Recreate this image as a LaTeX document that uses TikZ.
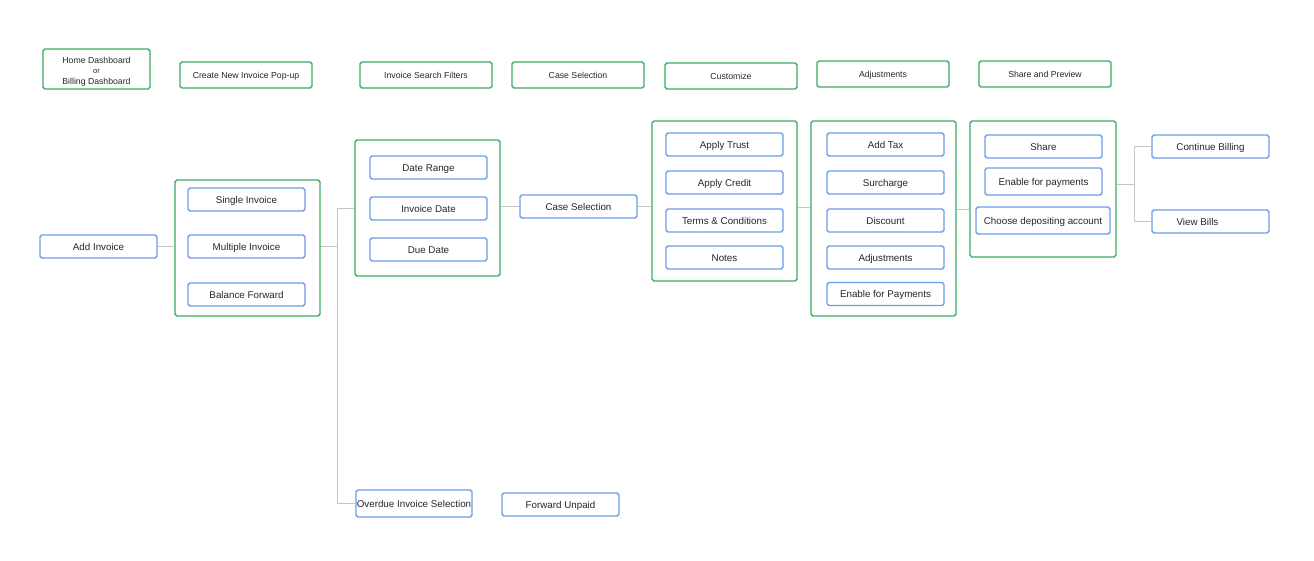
\documentclass[tikz,border=0pt]{standalone}
\usepackage{fontspec}
\setmainfont{Liberation Sans}
\definecolor{gboxc}{RGB}{60,170,100}
\definecolor{bboxc}{RGB}{108,156,232}
\definecolor{connc}{RGB}{196,196,196}
\begin{document}
\begin{tikzpicture}[x=1pt,y=-1pt,
  bluebox/.style={draw=bboxc, line width=1.4pt, rounded corners=1.8pt, fill=white, inner sep=0pt,
    minimum width=117pt, minimum height=23pt, font=\fontsize{9.8}{11}\selectfont, text=black!85,
    text height=7pt, text depth=0pt},
  greenbox/.style={draw=gboxc, line width=1.4pt, rounded corners=1.8pt, inner sep=0pt},
  headbase/.style={greenbox, minimum width=132pt, minimum height=26pt, align=center,
    font=\fontsize{8.7}{10}\selectfont, text=black!85},
  headbox/.style={headbase, text height=6.2pt, text depth=0pt},
  conn/.style={draw=connc, line width=1pt}]
\useasboundingbox (0,0) rectangle (1314,560);

% header row
\node[headbase, minimum width=107pt, minimum height=40pt] (home) at (96.5,69) {};
\node[align=center, inner sep=0pt, font=\fontsize{8.7}{10}\selectfont, text=black!85] (hometext) at (home.center)
  [yshift=-2.5pt] {Home Dashboard\\[0.5pt]{\fontsize{7.5}{10}\selectfont or}\\[0.5pt]Billing Dashboard};
\node[headbox] (hcreate) at (246,75) {Create New Invoice Pop-up};
\node[headbox] (hsearch) at (426,75) {Invoice Search Filters};
\node[headbox] (hcase) at (578,75) {Case Selection};
\node[headbox] (hcust) at (731,76) {Customize};
\node[headbox] (hadj) at (883,74) {Adjustments};
\node[headbox] (hshare) at (1045,74) {Share and Preview};

% groups
\node[greenbox, minimum width=145pt, minimum height=136pt] (g1) at (247.5,248) {};
\node[greenbox, minimum width=145pt, minimum height=136pt] (g2) at (427.5,208) {};
\node[greenbox, minimum width=145pt, minimum height=160pt] (g3) at (724.5,201) {};
\node[greenbox, minimum width=145pt, minimum height=195pt] (g4) at (883.5,218.5) {};
\node[greenbox, minimum width=146pt, minimum height=136pt] (g5) at (1043,189) {};

% nodes
\node[bluebox] (addinv) at (98.5,246.5) {Add Invoice};
\node[bluebox] (single) at (246.5,199.5) {Single Invoice};
\node[bluebox] (multi) at (246.5,246.5) {Multiple Invoice};
\node[bluebox] (balfwd) at (246.5,294.5) {Balance Forward};

\node[bluebox] (drange) at (428.5,167.5) {Date Range};
\node[bluebox] (invdate) at (428.5,208.5) {Invoice Date};
\node[bluebox] (duedate) at (428.5,249.5) {Due Date};

\node[bluebox] (casesel) at (578.5,206.5) {Case Selection};

\node[bluebox] (trust) at (724.5,144.5) {Apply Trust};
\node[bluebox] (credit) at (724.5,182.5) {Apply Credit};
\node[bluebox] (terms) at (724.5,220.5) {Terms \& Conditions};
\node[bluebox] (notes) at (724.5,257.5) {Notes};

\node[bluebox] (tax) at (885.5,144.5) {Add Tax};
\node[bluebox] (surch) at (885.5,182.5) {Surcharge};
\node[bluebox] (disc) at (885.5,220.5) {Discount};
\node[bluebox] (adj) at (885.5,257.5) {Adjustments};
\node[bluebox] (enpay) at (885.5,294) {Enable for Payments};

\node[bluebox] (share) at (1043.5,146.5) {Share};
\node[bluebox, minimum height=27pt] (enpay2) at (1043.5,181.5) {Enable for payments};
\node[bluebox, minimum width=134pt, minimum height=27pt] (deposit) at (1043,220.5) {Choose depositing account};

\node[bluebox] (contbill) at (1210.5,146.5) {Continue Billing};
\node[bluebox] (viewbills) at (1210.5,221.5) {\hspace*{-26pt}View Bills};

\node[bluebox, minimum width=116pt, minimum height=27pt] (overdue) at (414,503.5) {Overdue Invoice Selection};
\node[bluebox] (fwdunpaid) at (560.5,504.5) {Forward Unpaid};

% connectors
\coordinate (j1) at (337.5,246.5);
\coordinate (j2) at (1134,184);
\draw[conn] (addinv.east) -- (addinv.east -| g1.west);
\draw[conn] (j1 -| g1.east) -- (j1);
\draw[conn] (g2.west |- 0,208) -- (j1 |- 0,208) -- (j1 |- overdue.west) -- (overdue.west);
\draw[conn] (g2.east |- casesel.west) -- (casesel.west);
\draw[conn] (casesel.east) -- (casesel.east -| g3.west);
\draw[conn] (g3.east |- 0,207.5) -- (g4.west |- 0,207.5);
\draw[conn] (g4.east |- 0,209) -- (g5.west |- 0,209);
\draw[conn] (j2 -| g5.east) -- (j2);
\draw[conn] (contbill.west) -- (j2 |- contbill.west) -- (j2 |- viewbills.west) -- (viewbills.west);
\end{tikzpicture}
\end{document}
